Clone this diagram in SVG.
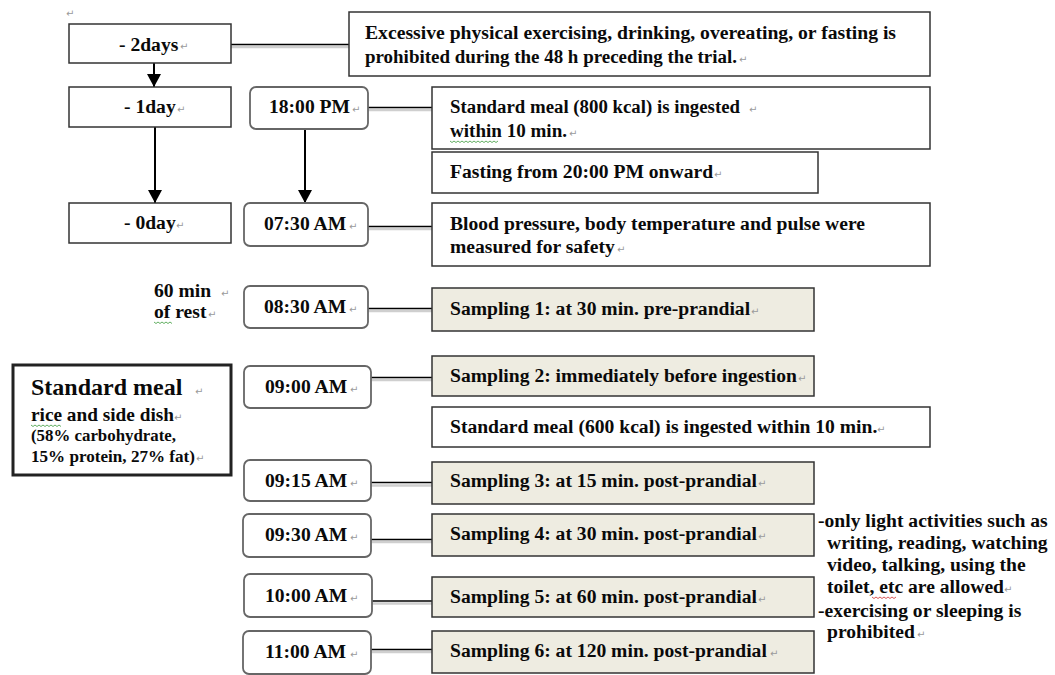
<svg xmlns="http://www.w3.org/2000/svg" width="1055" height="675" viewBox="0 0 1055 675">
<defs>
<style>
.t{font-family:"Liberation Serif","Times New Roman",serif;font-weight:bold;font-size:19.6px;fill:#0a0a0a}
.ret{font-family:"DejaVu Sans",sans-serif;font-size:10px;fill:#9a9a9a}
.box{fill:#fff;stroke:#333;stroke-width:1.5}
.samp{fill:#EEECE1;stroke:#333;stroke-width:1.5}
.time{fill:#fff;stroke:#666;stroke-width:1.8}
.conn{stroke:#000;stroke-width:1.3;fill:none}
.sh{stroke:#cfcfcf;stroke-width:2.4;fill:none}
.arr{stroke:#000;stroke-width:2;fill:none}
.spg{stroke:#3a9a3a;stroke-width:0.8;fill:none}
.spr{stroke:#d03030;stroke-width:0.8;fill:none}
</style>
<marker id="ah" markerUnits="userSpaceOnUse" markerWidth="14" markerHeight="14" refX="13" refY="7" orient="auto">
<path d="M0,0 L13,7 L0,14 z" fill="#000"/>
</marker>
</defs>
<rect width="1055" height="675" fill="#fff"/>
<text class="ret" x="66" y="17">↵</text>

<g id="connectors">
<line class="sh" x1="231" y1="47" x2="349" y2="47"/>
<line class="conn" x1="231" y1="44.5" x2="349" y2="44.5"/>
<line class="sh" x1="368" y1="110" x2="432" y2="110"/>
<line class="conn" x1="368" y1="107.5" x2="432" y2="107.5"/>
<line class="sh" x1="368" y1="229" x2="432" y2="229"/>
<line class="conn" x1="368" y1="226.5" x2="432" y2="226.5"/>
<line class="sh" x1="368" y1="311" x2="432" y2="311"/>
<line class="conn" x1="368" y1="308.5" x2="432" y2="308.5"/>
<line class="sh" x1="371" y1="380" x2="432" y2="380"/>
<line class="conn" x1="371" y1="377.5" x2="432" y2="377.5"/>
<line class="sh" x1="371" y1="485.5" x2="432" y2="485.5"/>
<line class="conn" x1="371" y1="482.5" x2="432" y2="482.5"/>
<line class="sh" x1="371" y1="542" x2="432" y2="542"/>
<line class="conn" x1="371" y1="539.5" x2="432" y2="539.5"/>
<line class="sh" x1="372" y1="603.5" x2="432" y2="603.5"/>
<line class="conn" x1="372" y1="601" x2="432" y2="601"/>
<line class="sh" x1="371" y1="652" x2="432" y2="652"/>
<line class="conn" x1="371" y1="649.5" x2="432" y2="649.5"/>
<line class="arr" x1="154" y1="63" x2="154" y2="87" marker-end="url(#ah)"/>
<line class="arr" x1="155" y1="127" x2="155" y2="203" marker-end="url(#ah)"/>
<line class="arr" x1="305" y1="129" x2="305" y2="203" marker-end="url(#ah)"/>
</g>

<g id="day2">
<rect class="box" x="69" y="24" width="162" height="39"/>
<text class="t" x="119" y="51">- 2days</text><text class="ret" x="180" y="50">↵</text>
</g>
<g id="day1">
<rect class="box" x="69" y="87" width="162" height="40"/>
<text class="t" x="124" y="113">- 1day</text><text class="ret" x="177" y="113">↵</text>
</g>
<g id="day0">
<rect class="box" x="69" y="203" width="162" height="40"/>
<text class="t" x="124" y="229">- 0day</text><text class="ret" x="176" y="229">↵</text>
</g>

<g id="excessive">
<rect class="box" x="349" y="12" width="581" height="64"/>
<text class="t" x="365" y="39" textLength="531" lengthAdjust="spacingAndGlyphs">Excessive physical exercising, drinking, overeating, or fasting is</text>
<text class="t" x="365" y="63" textLength="372" lengthAdjust="spacingAndGlyphs">prohibited during the 48 h preceding the trial.</text><text class="ret" x="739" y="63">↵</text>
</g>

<g id="t1800">
<rect class="time" x="250" y="87" width="118" height="42" rx="6"/>
<text class="t" x="269" y="113">18:00 PM</text><text class="ret" x="352" y="113">↵</text>
</g>
<g id="meal800">
<rect class="box" x="432" y="87" width="498" height="62"/>
<text class="t" x="450" y="113" textLength="290" lengthAdjust="spacingAndGlyphs">Standard meal (800 kcal) is ingested</text><text class="ret" x="749" y="113">↵</text>
<text class="t" x="450" y="137" textLength="117" lengthAdjust="spacingAndGlyphs">within 10 min.</text><text class="ret" x="569" y="137">↵</text>
<path class="spg" d="M450,141 l2,1.5 l2,-1.5 l2,1.5 l2,-1.5 l2,1.5 l2,-1.5 l2,1.5 l2,-1.5 l2,1.5 l2,-1.5 l2,1.5 l2,-1.5 l2,1.5 l2,-1.5 l2,1.5 l2,-1.5 l2,1.5 l2,-1.5 l2,1.5 l2,-1.5 l2,1.5 l2,-1.5 l2,1.5 l2,-1.5"/>
</g>
<g id="fasting">
<rect class="box" x="432" y="152" width="386" height="41"/>
<text class="t" x="450" y="178">Fasting from 20:00 PM onward</text><text class="ret" x="714" y="178">↵</text>
</g>

<g id="t0730">
<rect class="time" x="244" y="203" width="124" height="43" rx="6"/>
<text class="t" x="264" y="230">07:30 AM</text><text class="ret" x="349" y="230">↵</text>
</g>
<g id="blood">
<rect class="box" x="432" y="203" width="498" height="63"/>
<text class="t" x="450" y="230">Blood pressure, body temperature and pulse were</text>
<text class="t" x="450" y="253">measured for safety</text><text class="ret" x="617" y="253">↵</text>
</g>

<g id="rest">
<text class="t" x="154" y="297">60 min</text><text class="ret" x="221" y="297">↵</text>
<text class="t" x="154" y="318">of rest</text><text class="ret" x="208" y="318">↵</text>
<path class="spg" d="M154,322 l2,1.5 l2,-1.5 l2,1.5 l2,-1.5 l2,1.5 l2,-1.5 l2,1.5 l2,-1.5 l2,1.5"/>
</g>

<g id="t0830">
<rect class="time" x="244" y="286" width="124" height="42" rx="6"/>
<text class="t" x="264" y="313">08:30 AM</text><text class="ret" x="349" y="313">↵</text>
</g>
<g id="s1">
<rect class="samp" x="432" y="288" width="382" height="43"/>
<text class="t" x="450" y="315">Sampling 1: at 30 min. pre-prandial</text><text class="ret" x="751" y="315">↵</text>
</g>

<g id="stdmeal">
<rect x="13" y="365" width="218" height="110" fill="#fff" stroke="#222" stroke-width="3"/>
<text class="t" x="31" y="395" style="font-size:24px">Standard meal</text><text class="ret" x="195" y="395">↵</text>
<text class="t" x="31" y="421" style="font-size:19px" textLength="143" lengthAdjust="spacingAndGlyphs">rice and side dish</text><text class="ret" x="174" y="421">↵</text>
<path class="spg" d="M31,425 l2,1.5 l2,-1.5 l2,1.5 l2,-1.5 l2,1.5 l2,-1.5 l2,1.5 l2,-1.5 l2,1.5 l2,-1.5 l2,1.5 l2,-1.5 l2,1.5 l2,-1.5 l2,1.5"/>
<text class="t" x="31" y="441" style="font-size:16.5px" textLength="145" lengthAdjust="spacingAndGlyphs">(58% carbohydrate,</text>
<text class="t" x="31" y="462" style="font-size:16.5px" textLength="164" lengthAdjust="spacingAndGlyphs">15% protein, 27% fat)</text><text class="ret" x="196" y="462">↵</text>
</g>

<g id="t0900">
<rect class="time" x="244" y="366" width="127" height="42" rx="6"/>
<text class="t" x="265" y="393">09:00 AM</text><text class="ret" x="350" y="393">↵</text>
</g>
<g id="s2">
<rect class="samp" x="432" y="356" width="382" height="40"/>
<text class="t" x="450" y="382">Sampling 2: immediately before ingestion</text><text class="ret" x="798" y="382">↵</text>
</g>
<g id="meal600">
<rect class="box" x="432" y="407" width="498" height="40"/>
<text class="t" x="450" y="433">Standard meal (600 kcal) is ingested within 10 min.</text><text class="ret" x="877" y="433">↵</text>
</g>

<g id="t0915">
<rect class="time" x="244" y="460" width="127" height="41" rx="6"/>
<text class="t" x="265" y="487">09:15 AM</text><text class="ret" x="350" y="487">↵</text>
</g>
<g id="s3">
<rect class="samp" x="432" y="462" width="382" height="42"/>
<text class="t" x="450" y="487">Sampling 3: at 15 min. post-prandial</text><text class="ret" x="758" y="487">↵</text>
</g>

<g id="t0930">
<rect class="time" x="243" y="514" width="128" height="43" rx="6"/>
<text class="t" x="265" y="541">09:30 AM</text><text class="ret" x="350" y="541">↵</text>
</g>
<g id="s4">
<rect class="samp" x="432" y="514" width="382" height="42"/>
<text class="t" x="450" y="540">Sampling 4: at 30 min. post-prandial</text><text class="ret" x="758" y="540">↵</text>
</g>

<g id="t1000">
<rect class="time" x="244" y="574" width="128" height="43" rx="6"/>
<text class="t" x="265" y="602">10:00 AM</text><text class="ret" x="350" y="602">↵</text>
</g>
<g id="s5">
<rect class="samp" x="432" y="577" width="382" height="40"/>
<text class="t" x="450" y="603">Sampling 5: at 60 min. post-prandial</text><text class="ret" x="758" y="603">↵</text>
</g>

<g id="t1100">
<rect class="time" x="243" y="631" width="128" height="43" rx="6"/>
<text class="t" x="265" y="658">11:00 AM</text><text class="ret" x="350" y="658">↵</text>
</g>
<g id="s6">
<rect class="samp" x="432" y="631" width="382" height="42"/>
<text class="t" x="450" y="657">Sampling 6: at 120 min. post-prandial</text><text class="ret" x="770" y="657">↵</text>
</g>

<g id="activities">
<text class="t" x="818" y="527">-only light activities such as</text>
<text class="t" x="827" y="549">writing, reading, watching</text>
<text class="t" x="827" y="571">video, talking, using the</text>
<text class="t" x="827" y="593">toilet, etc are allowed</text><text class="ret" x="1004" y="593">↵</text>
<path class="spr" d="M872,597 l2,1.5 l2,-1.5 l2,1.5 l2,-1.5 l2,1.5 l2,-1.5 l2,1.5 l2,-1.5 l2,1.5 l2,-1.5 l2,1.5 l2,-1.5"/>
<text class="t" x="818" y="617">-exercising or sleeping is</text>
<text class="t" x="827" y="638">prohibited</text><text class="ret" x="917" y="638">↵</text>
</g>
</svg>
